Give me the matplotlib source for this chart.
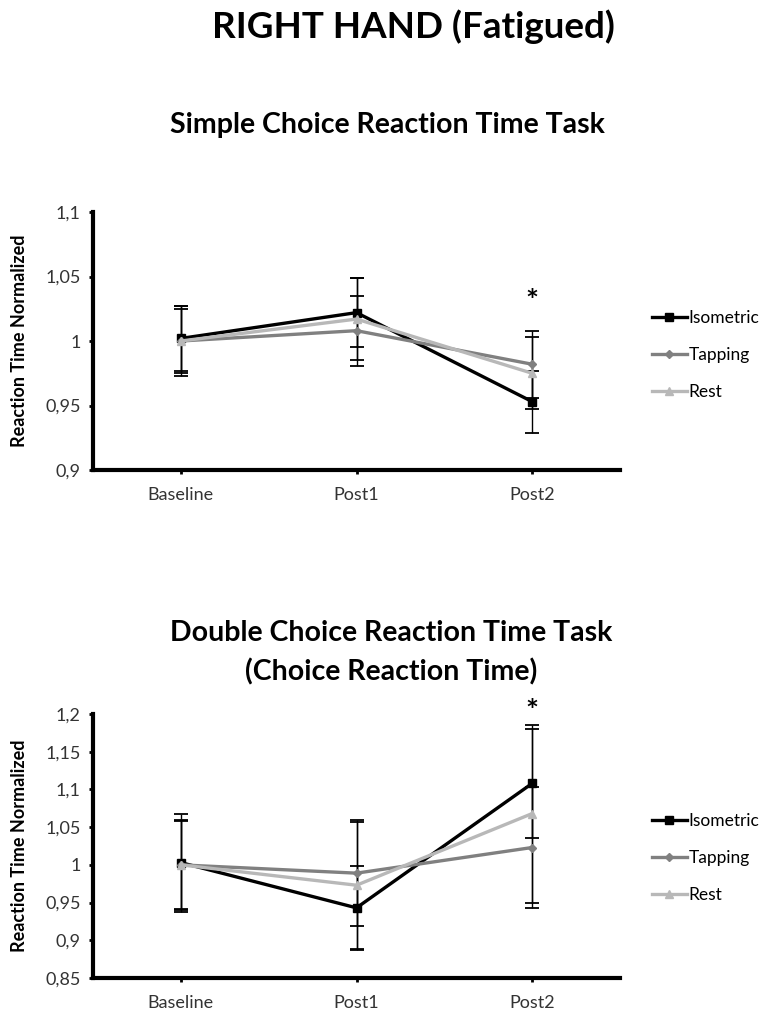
import numpy as np
import matplotlib.pyplot as plt

plt.rcParams['font.family'] = ['Lato', 'DejaVu Sans']

phases = ['Baseline', 'Post1', 'Post2']
groups = ['Isometric', 'Tapping', 'Rest']

# Simple choice reaction time task
simple_mean = {'Isometric': [1.002, 1.022, 0.953],
               'Tapping': [1.000, 1.008, 0.982],
               'Rest': [1.000, 1.017, 0.975]}
simple_err = {'Isometric': [0.025, 0.027, 0.024],
              'Tapping': [0.025, 0.027, 0.026],
              'Rest': [0.027, 0.032, 0.028]}
simple_ticks = [0.9, 0.95, 1.0, 1.05, 1.1]
simple_ticklabels = ['0,9', '0,95', '1', '1,05', '1,1']
simple_star = 1.030

# Double choice reaction time task
double_mean = {'Isometric': [1.003, 0.943, 1.108],
               'Tapping': [1.000, 0.989, 1.023],
               'Rest': [1.000, 0.973, 1.068]}
double_err = {'Isometric': [0.065, 0.056, 0.072],
              'Tapping': [0.058, 0.070, 0.080],
              'Rest': [0.060, 0.084, 0.118]}
double_ticks = [0.85, 0.9, 0.95, 1.0, 1.05, 1.1, 1.15, 1.2]
double_ticklabels = ['0,85', '0,9', '0,95', '1', '1,05', '1,1', '1,15', '1,2']
double_star = 1.203

colors = {'Isometric': '#000000', 'Tapping': '#808080', 'Rest': '#b8b8b8'}
markers = {'Isometric': 's', 'Tapping': 'D', 'Rest': '^'}
msizes = {'Isometric': 6, 'Tapping': 4, 'Rest': 6}

fig = plt.figure(figsize=(7.77, 10.19), dpi=100)

fig.text(0.532, 1 - 27 / 1019, 'RIGHT HAND (Fatigued)', ha='center', va='center',
         fontsize=26.5, fontweight='bold')
fig.text(0.498, 1 - 125 / 1019, 'Simple Choice Reaction Time Task', ha='center', va='center',
         fontsize=20.5, fontweight='bold')
fig.text(0.503, 1 - 653 / 1019, 'Double Choice Reaction Time Task\n(Choice Reaction Time)',
         ha='center', va='center', fontsize=20.5, fontweight='bold', linespacing=1.55)

ax1 = fig.add_axes([93 / 777, 1 - 470 / 1019, 527 / 777, 258 / 1019])
ax2 = fig.add_axes([93 / 777, 1 - 978 / 1019, 527 / 777, 264 / 1019])

x = np.arange(len(phases))

def draw(ax, means, errs, ticks, ticklabels, star, leg_top):
    handles = []
    for g in groups:
        ax.errorbar(x, means[g], yerr=errs[g], fmt='none', ecolor='black',
                    elinewidth=1.0, capsize=5, capthick=1.3, zorder=2)
    for g in groups:
        h, = ax.plot(x, means[g], color=colors[g], marker=markers[g], markersize=msizes[g],
                     linewidth=2.4, label=g, zorder=3)
        handles.append(h)
    ax.text(2, star, '*', ha='center', va='center', fontsize=22, fontweight='bold')
    ax.set_xlim(-0.5, 2.5)
    ax.set_ylim(ticks[0], ticks[-1])
    ax.set_yticks(ticks)
    ax.set_yticklabels(ticklabels)
    ax.set_xticks(x)
    ax.set_xticklabels(phases)
    for s in ['top', 'right']:
        ax.spines[s].set_visible(False)
    for s in ['left', 'bottom']:
        ax.spines[s].set_linewidth(3)
    ax.tick_params(axis='both', length=3, width=2, labelsize=13, colors='black',
                   labelcolor='#333333')
    ax.tick_params(axis='x', pad=9)
    ax.tick_params(axis='y', pad=6)
    ax.set_ylabel('Reaction Time Normalized', fontsize=13, fontweight='bold', labelpad=12)
    ax.legend(handles=handles, loc='upper left', bbox_to_anchor=(645 / 777, leg_top),
              bbox_transform=fig.transFigure, frameon=False, fontsize=12.5,
              handlelength=2.0, handletextpad=0.1, labelspacing=1.2, borderaxespad=0)

draw(ax1, simple_mean, simple_err, simple_ticks, simple_ticklabels, simple_star, 1 - 303 / 1019)
draw(ax2, double_mean, double_err, double_ticks, double_ticklabels, double_star, 1 - 806 / 1019)

fig.savefig('out.png', dpi=100)
